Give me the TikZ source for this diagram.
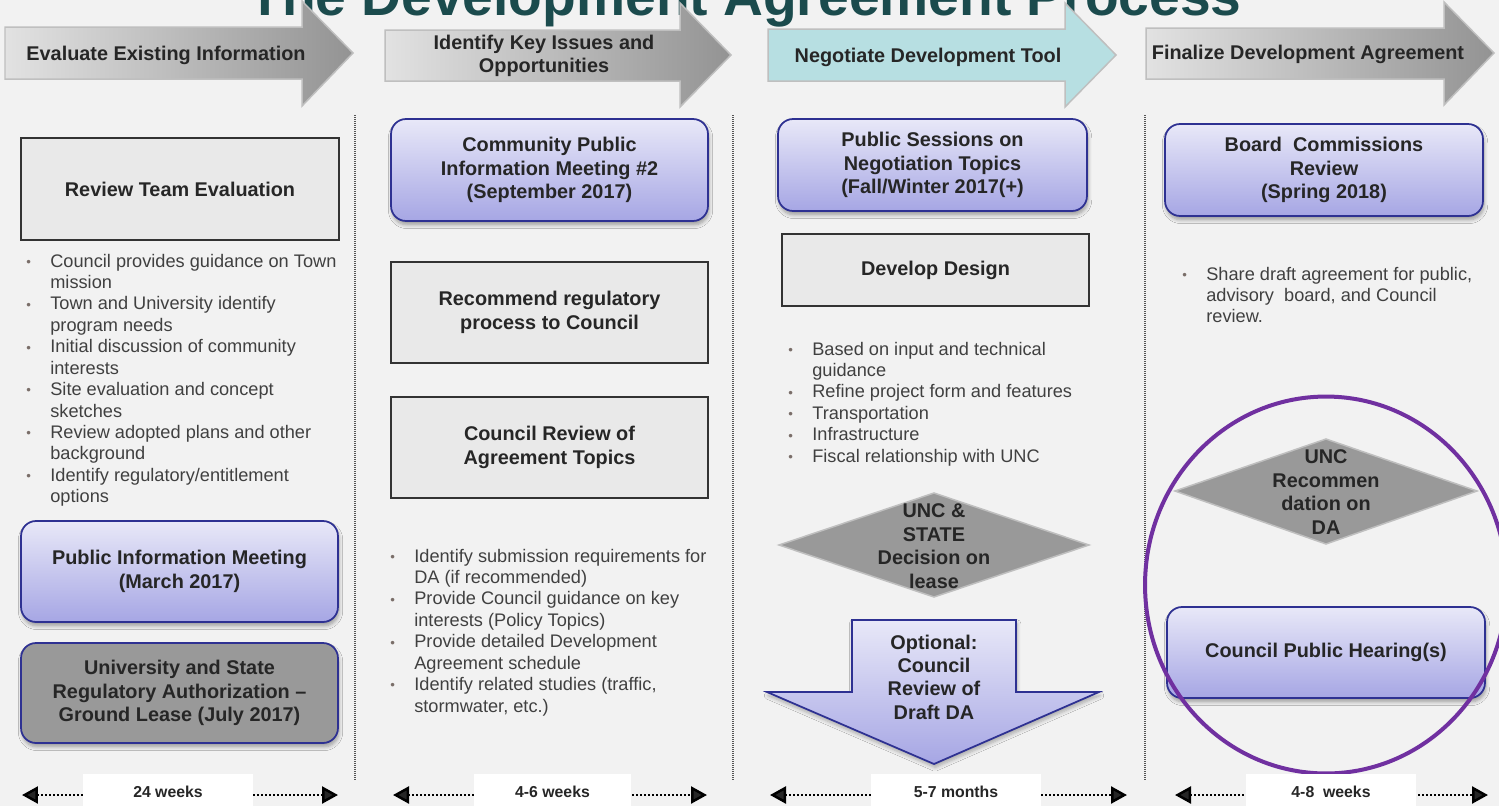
\documentclass[tikz,border=0pt]{standalone}
\usepackage{fontspec}
\setmainfont{Liberation Sans}
\usetikzlibrary{arrows.meta,shadows.blur}

\definecolor{bg}{HTML}{F2F2F2}
\definecolor{titlec}{HTML}{1B4B4D}
\definecolor{ink}{HTML}{262626}
\definecolor{bodyc}{HTML}{404040}
\definecolor{bulc}{HTML}{7A6E69}
\definecolor{boxfill}{HTML}{E9E9E9}
\definecolor{boxline}{HTML}{333333}
\definecolor{lavtop}{HTML}{E8E8F8}
\definecolor{lavbot}{HTML}{A6A6E4}
\definecolor{navy}{HTML}{2E3192}
\definecolor{midgray}{HTML}{999999}
\definecolor{edgegray}{HTML}{BFBFBF}
\definecolor{hdrL}{HTML}{E2E2E2}
\definecolor{hdrR}{HTML}{939393}
\definecolor{tealfill}{HTML}{B7DFE2}
\definecolor{hlpurple}{HTML}{7030A0}
\definecolor{sepc}{HTML}{555555}

\newcommand\bxfont{\fontsize{11.3}{13.5}\selectfont\bfseries}
\newcommand\bul{\textcolor{bulc}{\raisebox{0.4pt}{\fontsize{7.5}{7.5}\selectfont\textbullet}}}

\begin{document}
\begin{tikzpicture}[x=0.02cm, y=-0.02cm,
  hdrarrow/.style={draw=edgegray, line width=0.03cm, left color=hdrL, right color=hdrR},
  hdrtext/.style={font=\bxfont, text=ink, align=center, inner sep=0},
  graybox/.style={draw=boxline, line width=0.045cm, fill=boxfill, inner sep=0,
    align=center, font=\bxfont, text=ink},
  roundbox/.style={draw=navy, line width=0.035cm, rounded corners=0.3cm,
    top color=lavtop, bottom color=lavbot, inner sep=0, align=center, font=\bxfont, text=ink,
    blur shadow={shadow xshift=0.6pt, shadow yshift=-2.2pt, shadow blur steps=6, shadow opacity=35}},
  darkround/.style={roundbox, top color=midgray, bottom color=midgray},
  decision/.style={fill=midgray, draw=edgegray, line width=0.03cm},
  bxtext/.style={font=\bxfont, text=ink, align=center, inner sep=0},
  blist/.style={anchor=base west, inner sep=0, font=\fontsize{10.35}{12.2}\selectfont, text=bodyc},
  colsep/.style={draw=sepc, line width=0.03cm, dash pattern=on 0.02cm off 0.02cm},
  tline/.style={line width=0.05cm, dash pattern=on 0.04cm off 0.04cm,
    {Triangle[length=0.32cm,width=0.34cm]}-{Triangle[length=0.32cm,width=0.34cm]}},
  tlabel/.style={fill=white, inner sep=0, minimum height=0.72cm,
    font=\fontsize{9}{11}\selectfont\bfseries, text=ink},
  hl/.style={draw=hlpurple, line width=0.08cm}
]
\useasboundingbox (0,0) rectangle (1499,806);
\begin{scope}
\clip (0,0) rectangle (1499,806);
\fill[bg] (0,0) rectangle (1499,806);

% title, cut by the top edge
\node[anchor=base, inner sep=0, font=\fontsize{31.4}{36}\selectfont\bfseries, text=titlec]
  (title) at (745,15) {The Development Agreement Process};

% phase arrows
\path[hdrarrow] (5,27) -- (302,27) -- (302,1) -- (353,53) -- (302,106) -- (302,79) -- (5,79) -- cycle;
\path[hdrarrow] (385,30) -- (680,30) -- (680,3) -- (731,55) -- (680,107) -- (680,81) -- (385,81) -- cycle;
\path[draw=edgegray, line width=0.03cm, fill=tealfill]
  (768,29) -- (1065,29) -- (1065,3) -- (1116,55) -- (1065,107) -- (1065,81) -- (768,81) -- cycle;
\path[hdrarrow] (1146,28) -- (1444,28) -- (1444,2) -- (1494,53) -- (1444,105) -- (1444,79) -- (1146,79) -- cycle;

\node[hdrtext] (h1) at (166,55) {Evaluate Existing Information};
\node[hdrtext] (h2) at (544,56) {Identify Key Issues and\\Opportunities};
\node[hdrtext] (h3) at (928,57) {Negotiate Development Tool};
\node[hdrtext] (h4) at (1308,54) {Finalize Development Agreement};

% column separators
\coordinate (s1a) at (355,115); \coordinate (s1b) at (355,780);
\coordinate (s2a) at (733,115); \coordinate (s2b) at (733,780);
\coordinate (s3a) at (1145,115); \coordinate (s3b) at (1145,780);
\draw[colsep] (s1a) -- (s1b);
\draw[colsep] (s2a) -- (s2b);
\draw[colsep] (s3a) -- (s3b);

% column 1
\node[graybox, minimum width=6.36cm, minimum height=2.04cm] (rte) at (180,189) {Review Team Evaluation};
\node[blist] (l1) at (26,267) {\begin{tabular}[t]{@{}p{0.48cm}@{}l@{}}
\bul & Council provides guidance on Town\\
 & mission\\
\bul & Town and University identify\\
 & program needs\\
\bul & Initial discussion of community\\
 & interests\\
\bul & Site evaluation and concept\\
 & sketches\\
\bul & Review adopted plans and other\\
 & background\\
\bul & Identify regulatory/entitlement\\
 & options
\end{tabular}};
\node[roundbox, minimum width=6.34cm, minimum height=2.02cm] (pim) at (179.5,571.5)
  {Public Information Meeting\\(March 2017)};
\node[darkround, minimum width=6.34cm, minimum height=2.0cm] (usr) at (179.5,693)
  {University and State\\Regulatory Authorization --\\Ground Lease (July 2017)};

% column 2
\node[roundbox, minimum width=6.34cm, minimum height=2.04cm] (cpim) at (549.5,170)
  {Community Public\\Information Meeting \#2\\(September 2017)};
\node[graybox, minimum width=6.34cm, minimum height=2.02cm] (rrp) at (549.5,312.5)
  {Recommend regulatory\\process to Council};
\node[graybox, minimum width=6.34cm, minimum height=2.02cm] (crat) at (549.5,447.5)
  {Council Review of\\Agreement Topics};
\node[blist] (l2) at (390,562) {\begin{tabular}[t]{@{}p{0.48cm}@{}l@{}}
\bul & Identify submission requirements for\\
 & DA (if recommended)\\
\bul & Provide Council guidance on key\\
 & interests (Policy Topics)\\
\bul & Provide detailed Development\\
 & Agreement schedule\\
\bul & Identify related studies (traffic,\\
 & stormwater, etc.)
\end{tabular}};

% column 3
\node[roundbox, minimum width=6.18cm, minimum height=1.84cm] (psn) at (932.5,165)
  {Public Sessions on\\Negotiation Topics\\(Fall/Winter 2017(+)};
\node[graybox, minimum width=6.14cm, minimum height=1.44cm] (dd) at (935.5,270) {Develop Design};
\node[blist] (l3) at (788,355) {\begin{tabular}[t]{@{}p{0.48cm}@{}l@{}}
\bul & Based on input and technical\\
 & guidance\\
\bul & Refine project form and features\\
\bul & Transportation\\
\bul & Infrastructure\\
\bul & Fiscal relationship with UNC
\end{tabular}};
\path[decision] (779,545) -- (934,493) -- (1089,545) -- (934,597) -- cycle;
\node[bxtext, font=\fontsize{11.3}{13.4}\selectfont\bfseries] (d1) at (934,546)
  {UNC \&\\STATE\\Decision on\\lease};
\path[draw=navy, line width=0.035cm, top color=lavtop, bottom color=lavbot,
  blur shadow={shadow xshift=0.6pt, shadow yshift=-2pt, shadow blur steps=6, shadow opacity=30}]
  (852,620) -- (1016,620) -- (1016,692) -- (1099,692) -- (934,764) -- (767,692) -- (852,692) -- cycle;
\node[bxtext, font=\fontsize{11.3}{13.3}\selectfont\bfseries] (opt) at (934,677)
  {Optional:\\Council\\Review of\\Draft DA};

% column 4
\node[roundbox, minimum width=6.36cm, minimum height=1.84cm] (bcr) at (1324,170)
  {Board\ \ Commissions\\Review\\(Spring 2018)};
\node[blist] (l4) at (1182,280) {\begin{tabular}[t]{@{}p{0.48cm}@{}l@{}}
\bul & Share draft agreement for public,\\
 & advisory\ \ board, and Council\\
 & review.
\end{tabular}};
\path[decision] (1175,491) -- (1326,439) -- (1477,491) -- (1326,544) -- cycle;
\node[bxtext, font=\fontsize{11.3}{13.4}\selectfont\bfseries] (d2) at (1326,492)
  {UNC\\Recommen\\dation on\\DA};
\node[roundbox, minimum width=6.36cm, minimum height=1.82cm] (cph) at (1326,652.5)
  {Council Public Hearing(s)};
\draw[hl] (1326,585) ellipse [x radius=3.62cm, y radius=3.77cm];

% durations
\coordinate (t1a) at (22,795);  \coordinate (t1b) at (338,795);
\coordinate (t2a) at (393,795); \coordinate (t2b) at (707,795);
\coordinate (t3a) at (770,795); \coordinate (t3b) at (1127,795);
\coordinate (t4a) at (1175,795); \coordinate (t4b) at (1488,795);
\draw[tline] (t1a) -- (t1b);
\draw[tline] (t2a) -- (t2b);
\draw[tline] (t3a) -- (t3b);
\draw[tline] (t4a) -- (t4b);
\node[tlabel, minimum width=3.4cm] (w1) at (168,792) {24 weeks};
\node[tlabel, minimum width=3.14cm] (w2) at (552.5,792) {4-6 weeks};
\node[tlabel, minimum width=3.4cm] (w3) at (956,792) {5-7 months};
\node[tlabel, minimum width=3.4cm] (w4) at (1331,792) {4-8\ \ weeks};
\end{scope}
\end{tikzpicture}
\end{document}
